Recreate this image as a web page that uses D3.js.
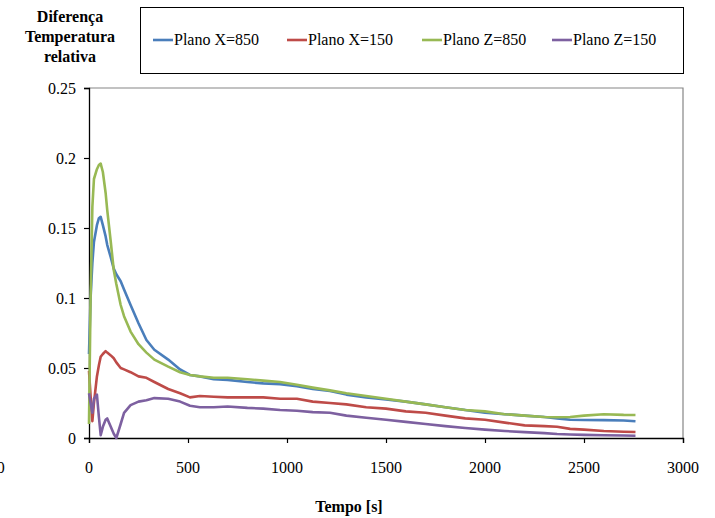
<!DOCTYPE html>
<html lang="pt">
<head>
  <meta charset="UTF-8" />
  <title>Diferença Temperatura relativa</title>
  <script src="https://d3js.org/d3.v7.min.js"></script>
  <style>
    body { margin: 0; background: #fff; }
    svg text { font-family: "Liberation Serif", "Times New Roman", serif; fill: #000; }
  </style>
</head>
<body>
  <div id="chart"></div>

  <script>
    // Tempo [s]
    const tempo = [0, 8, 17, 25, 40, 50, 59, 70, 84, 92, 110, 125, 138, 160, 177, 210, 250, 290, 330, 400,
      460, 510, 560, 630, 700, 800, 880, 965, 1050, 1130, 1217, 1300, 1400, 1500, 1600, 1700, 1800, 1900,
      2000, 2100, 2200, 2300, 2364, 2430, 2500, 2600, 2700, 2760];

    const planoX850 = [0.060, 0.100, 0.125, 0.140, 0.152, 0.157, 0.158, 0.152, 0.144, 0.138, 0.129, 0.121, 0.117, 0.112,
      0.106, 0.095, 0.082, 0.070, 0.063, 0.056, 0.049, 0.045, 0.044, 0.042, 0.0415, 0.040, 0.039, 0.0385, 0.037,
      0.035, 0.0336, 0.031, 0.029, 0.0275, 0.026, 0.024, 0.022, 0.020, 0.018, 0.017, 0.016, 0.015, 0.014, 0.013,
      0.0129, 0.0128, 0.0125, 0.012];

    const planoX150 = [0.048, 0.030, 0.012, 0.025, 0.044, 0.052, 0.058, 0.060, 0.062, 0.061, 0.059, 0.057, 0.054, 0.050,
      0.049, 0.047, 0.044, 0.043, 0.040, 0.035, 0.032, 0.029, 0.030, 0.0295, 0.029, 0.029, 0.029, 0.028, 0.028,
      0.026, 0.025, 0.024, 0.022, 0.021, 0.019, 0.018, 0.016, 0.014, 0.013, 0.011, 0.009, 0.0085, 0.008, 0.0065,
      0.006, 0.005, 0.0045, 0.0043];

    const planoZ850 = [0.010, 0.100, 0.165, 0.185, 0.192, 0.195, 0.196, 0.190, 0.175, 0.163, 0.140, 0.120, 0.110, 0.095,
      0.087, 0.076, 0.067, 0.061, 0.056, 0.051, 0.047, 0.045, 0.044, 0.043, 0.043, 0.042, 0.041, 0.040, 0.038,
      0.036, 0.034, 0.032, 0.030, 0.028, 0.026, 0.024, 0.022, 0.020, 0.019, 0.017, 0.016, 0.015, 0.0148, 0.015,
      0.016, 0.017, 0.0165, 0.0164];

    const planoZ150 = [0.032, 0.025, 0.018, 0.028, 0.031, 0.015, 0.002, 0.008, 0.013, 0.014, 0.008, 0.003, 0.000, 0.010,
      0.018, 0.0235, 0.026, 0.027, 0.0285, 0.028, 0.026, 0.023, 0.022, 0.022, 0.0225, 0.0215, 0.021, 0.020, 0.0195,
      0.0185, 0.018, 0.016, 0.0145, 0.013, 0.0115, 0.010, 0.0085, 0.0072, 0.006, 0.005, 0.0042, 0.0035, 0.0029,
      0.0025, 0.0022, 0.002, 0.0018, 0.0016];

    const nomes = ["Plano X=850", "Plano X=150", "Plano Z=850", "Plano Z=150"];
    const cores = ["#4A7EBB", "#BE4B48", "#98B954", "#7D60A0"];
    const xTicks = [-500, 0, 500, 1000, 1500, 2000, 2500, 3000];
    const yTicks = [0, 0.05, 0.1, 0.15, 0.2, 0.25];

    const fonte = "'Liberation Serif', 'Times New Roman', serif";
    const tam = "16px";

    const series = [planoX850, planoX150, planoZ850, planoZ150].map((v, i) => ({
      nome: nomes[i],
      cor: cores[i],
      pontos: tempo.map((t, j) => ({ t: t, v: v[j] }))
    }));

    const width = 715, height = 518;
    const margin = { top: 88, right: 32, bottom: 80, left: 89 };

    const svg = d3.select("#chart")
      .append("svg")
      .attr("width", width)
      .attr("height", height)
      .style("font-family", fonte);

    const x = d3.scaleLinear().domain([0, 3000]).range([margin.left, width - margin.right]);
    const y = d3.scaleLinear().domain([0, 0.25]).range([height - margin.bottom, margin.top]);

    // cadre du graphique (haut et droite en gris)
    svg.append("path")
      .attr("d", `M${x(0)},${y(0.25)}H${x(3000)}V${y(0)}`)
      .attr("fill", "none")
      .attr("stroke", "#868686")
      .attr("stroke-width", 1.2);

    // axe X
    const xAxis = svg.append("g")
      .attr("transform", `translate(0,${y(0)})`)
      .call(d3.axisBottom(x).tickValues(xTicks.filter(d => d >= 0)).tickSize(5).tickFormat(""));
    xAxis.select(".domain").attr("stroke", "#000").attr("stroke-width", 1.3);
    xAxis.selectAll(".tick line").attr("stroke", "#000").attr("stroke-width", 1.2);

    svg.selectAll(".xlabel")
      .data(xTicks)
      .enter()
      .append("text")
      .attr("class", "xlabel")
      .attr("x", d => x(d))
      .attr("y", y(0) + 35)
      .attr("text-anchor", "middle")
      .style("font-family", fonte)
      .style("font-size", tam)
      .text(d => d);

    // axe Y
    const yAxis = svg.append("g")
      .attr("transform", `translate(${x(0)},0)`)
      .call(d3.axisLeft(y).tickValues(yTicks).tickSize(5).tickFormat(d => d));
    yAxis.attr("font-family", null);
    yAxis.select(".domain").attr("stroke", "#000").attr("stroke-width", 1.3);
    yAxis.selectAll(".tick line").attr("stroke", "#000").attr("stroke-width", 1.2);
    yAxis.selectAll(".tick text")
      .attr("x", -13)
      .attr("dy", "0.32em")
      .style("font-size", tam)
      .style("font-family", fonte);

    // courbes
    const line = d3.line()
      .x(d => x(d.t))
      .y(d => y(d.v));

    svg.selectAll(".serie")
      .data(series)
      .enter()
      .append("path")
      .attr("class", "serie")
      .attr("d", d => line(d.pontos))
      .attr("fill", "none")
      .attr("stroke", d => d.cor)
      .attr("stroke-width", 2.6)
      .attr("stroke-linejoin", "round");

    // titres
    const yTitle = svg.append("text")
      .attr("text-anchor", "middle")
      .style("font-family", fonte)
      .style("font-size", tam)
      .style("font-weight", "bold");
    ["Diferença", "Temperatura", "relativa"].forEach((l, i) => {
      yTitle.append("tspan").attr("x", 70).attr("y", 22 + i * 20).text(l);
    });

    svg.append("text")
      .attr("x", 349)
      .attr("y", 512)
      .attr("text-anchor", "middle")
      .style("font-family", fonte)
      .style("font-size", tam)
      .style("font-weight", "bold")
      .text("Tempo [s]");

    // légende
    svg.append("rect")
      .attr("x", 140.5).attr("y", 7.5)
      .attr("width", 543).attr("height", 66)
      .attr("fill", "#fff")
      .attr("stroke", "#000")
      .attr("stroke-width", 1);

    const legX = [153, 287, 422, 552];
    const item = svg.selectAll(".leg")
      .data(series)
      .enter()
      .append("g")
      .attr("class", "leg")
      .attr("transform", (d, i) => `translate(${legX[i]},40)`);
    item.append("line")
      .attr("x1", 0).attr("x2", 20)
      .attr("stroke", d => d.cor)
      .attr("stroke-width", 2.6);
    item.append("text")
      .attr("x", 21)
      .attr("dy", "0.33em")
      .style("font-family", fonte)
      .style("font-size", tam)
      .text(d => d.nome);
  </script>
</body>
</html>
